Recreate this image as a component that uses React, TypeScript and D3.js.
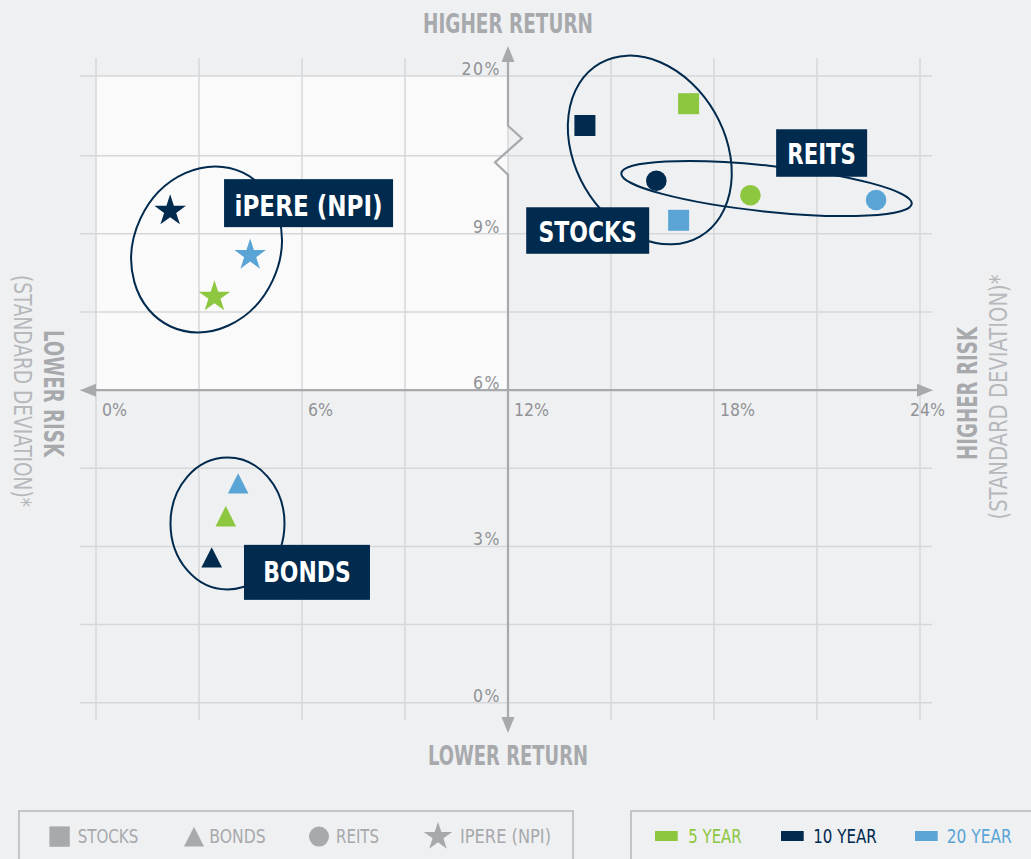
import React from "react";
import * as d3 from "d3";

const W = 1031;
const H = 859;

// ---------- data ----------
const horizons = ["5 YEAR", "10 YEAR", "20 YEAR"];
const horizonColors = ["#8dc63f", "#002a4e", "#5aa5d6"];
const assetClasses = ["STOCKS", "BONDS", "REITS", "IPERE (NPI)"];
const assetShapes = ["square", "triangle", "circle", "star"];

// risk (std dev, %) and return (%) per horizon [5Y, 10Y, 20Y]
const stocksRisk = [17.26, 14.24, 16.97];
const stocksReturn = [16.7, 14.1, 9.26];
const bondsRisk = [3.78, 3.37, 4.14];
const bondsReturn = [3.58, 2.79, 4.21];
const reitsRisk = [19.06, 16.32, 22.72];
const reitsReturn = [9.74, 10.02, 9.65];
const ipereRisk = [3.45, 2.16, 4.49];
const ipereReturn = [7.79, 9.44, 8.59];

const xTickValues = [0, 6, 12, 18, 24];
const xGridValues = [0, 3, 6, 9, 12, 15, 18, 21, 24];
const yTickValues = [0, 3, 6, 9, 20];
const yGridValues = [0, 1.5, 3, 4.5, 6, 7.5, 9, 10.5, 20];

const groupLabels = ["STOCKS", "BONDS", "REITS", "iPERE (NPI)"];
// group ellipse centres (data units)
const groupCenterRisk = [16.13, 3.83, 19.53, 3.22];
const groupCenterReturn = [11.18, 3.44, 9.87, 8.7];
// label box anchors (top-left, data units)
const labelRisk = [12.53, 4.31, 19.81, 3.73];
const labelReturn = [9.51, 3.03, 13.65, 10.05];

// ---------- styles ----------
const FONT = "'Liberation Sans Narrow','DejaVu Sans Condensed','Arial Narrow',sans-serif";
const BG = "#eff0f2";
const GRID = "#d6d7d9";
const AXIS = "#a7a9ac";
const TICK = "#909295";
const NAVY = "#002a4e";

const ellipseStyle = [
  { rx: 75, ry: 100, rot: -30 },
  { rx: 57, ry: 66, rot: 0 },
  { rx: 146, ry: 23, rot: 6 },
  { rx: 73, ry: 85, rot: 25 },
];
const labelBoxStyle = [
  { w: 123, h: 46.5, tw: 98.4, dy: 34.5 },
  { w: 126, h: 55, tw: 87.6, dy: 36.7 },
  { w: 91, h: 47.5, tw: 68.6, dy: 34.7 },
  { w: 169, h: 48, tw: 148, dy: 36.5 },
];

function starPath(r: number) {
  const ri = r * 0.382;
  const pts: [number, number][] = [];
  for (let i = 0; i < 10; i++) {
    const a = (-90 + i * 36) * (Math.PI / 180);
    const rr = i % 2 === 0 ? r : ri;
    pts.push([rr * Math.cos(a), rr * Math.sin(a)]);
  }
  return d3.line()(pts.concat([pts[0]])) + "Z";
}
function triPath(w: number, h: number) {
  return d3.line()([
    [0, -h / 2],
    [w / 2, h / 2],
    [-w / 2, h / 2],
    [0, -h / 2],
  ]) + "Z";
}

function Shape({ kind, x, y, color, scale = 1 }: { kind: string; x: number; y: number; color: string; scale?: number }) {
  if (kind === "square") {
    const s = 21 * scale;
    return <rect x={x - s / 2} y={y - s / 2} width={s} height={s} fill={color} />;
  }
  if (kind === "circle") {
    return <circle cx={x} cy={y} r={10.3 * scale} fill={color} />;
  }
  if (kind === "triangle") {
    return <path d={triPath(20.6 * scale, 20.4 * scale)} transform={`translate(${x},${y})`} fill={color} />;
  }
  return <path d={starPath(16.6 * scale)} transform={`translate(${x},${y})`} fill={color} />;
}

export default function App() {
  const xs = d3.scaleLinear().domain([0, 24]).range([96, 920]);
  const ys = d3.scaleLinear().domain([0, 10.5, 20]).range([702.7, 155.7, 76]);

  const seriesRisk = [stocksRisk, bondsRisk, reitsRisk, ipereRisk];
  const seriesReturn = [stocksReturn, bondsReturn, reitsReturn, ipereReturn];

  const ax = xs(12);
  const ay = ys(6);
  const gridLeft = 80;
  const gridRight = 932;
  const gridTop = 58;
  const gridBottom = 720;

  const bTop = ys(10.5) - 30;
  const yAxisPath =
    `M${ax},60 L${ax},${bTop} L${ax + 14},${bTop + 12.7} L${ax - 13},${bTop + 36.7} L${ax},${bTop + 49} L${ax},719`;

  return (
    <svg
      width={W}
      height={H}
      style={{ position: "absolute", left: 0, top: 0, display: "block" }}
      fontFamily={FONT}
    >
      <rect width={W} height={H} fill={BG} />
      <rect x={xs(0)} y={ys(20)} width={xs(12) - xs(0)} height={ys(6) - ys(20)} fill="#fafafa" />

      {/* grid */}
      {yGridValues.map((v) => (
        <line key={"hy" + v} x1={gridLeft} x2={gridRight} y1={ys(v)} y2={ys(v)} stroke={GRID} strokeWidth={1.5} />
      ))}
      {xGridValues.map((v) => (
        <line key={"vx" + v} x1={xs(v)} x2={xs(v)} y1={gridTop} y2={gridBottom} stroke={GRID} strokeWidth={1.5} />
      ))}

      {/* axes */}
      <line x1={gridLeft + 14} x2={gridRight - 12} y1={ay} y2={ay} stroke={AXIS} strokeWidth={2.2} />
      <path d={`M${gridLeft},${ay} L${gridLeft + 16},${ay - 6.5} L${gridLeft + 16},${ay + 6.5}Z`} fill={AXIS} />
      <path d={`M${gridRight + 1},${ay} L${gridRight - 15},${ay - 6.5} L${gridRight - 15},${ay + 6.5}Z`} fill={AXIS} />
      <path d={yAxisPath} fill="none" stroke={AXIS} strokeWidth={2.2} strokeLinejoin="miter" />
      <path d={`M${ax},46 L${ax - 6.5},62 L${ax + 6.5},62Z`} fill={AXIS} />
      <path d={`M${ax},733 L${ax - 6.5},717 L${ax + 6.5},717Z`} fill={AXIS} />

      {/* tick labels */}
      {xTickValues.map((v) => (
        <text
          key={"xt" + v}
          x={xs(v) + (v === 24 ? -10 : 6)}
          y={416}
          fontSize={17.5}
          fill={TICK}
        >
          {v}%
        </text>
      ))}
      {yTickValues.map((v) => (
        <text
          key={"yt" + v}
          x={ax - 7}
          y={ys(v) - 1}
          fontSize={17.5}
          fill={TICK}
          textAnchor="end"
          letterSpacing={1.5}
        >
          {v}%
        </text>
      ))}

      {/* axis titles */}
      <text x={508} y={32.7} textAnchor="middle" fontWeight="bold" fontSize={26} fill={AXIS} textLength={170} lengthAdjust="spacingAndGlyphs">
        HIGHER RETURN
      </text>
      <text x={508} y={764.5} textAnchor="middle" fontWeight="bold" fontSize={26} fill={AXIS} textLength={160} lengthAdjust="spacingAndGlyphs">
        LOWER RETURN
      </text>
      <text transform="translate(44,393.5) rotate(90)" textAnchor="middle" fontWeight="bold" fontSize={26} fill={AXIS} textLength={127} lengthAdjust="spacingAndGlyphs">
        LOWER RISK
      </text>
      <text transform="translate(14,391) rotate(90)" textAnchor="middle" fontSize={25} fill="#b6b8bb" textLength={232} lengthAdjust="spacingAndGlyphs">
        (STANDARD DEVIATION)*
      </text>
      <text transform="translate(977,393.5) rotate(-90)" textAnchor="middle" fontWeight="bold" fontSize={26} fill={AXIS} textLength={133} lengthAdjust="spacingAndGlyphs">
        HIGHER RISK
      </text>
      <text transform="translate(1007,397) rotate(-90)" textAnchor="middle" fontSize={25} fill="#b6b8bb" textLength={245} lengthAdjust="spacingAndGlyphs">
        (STANDARD DEVIATION)*
      </text>

      {/* group ellipses */}
      {groupLabels.map((g, i) => {
        const e = ellipseStyle[i];
        const cx = xs(groupCenterRisk[i]);
        const cy = ys(groupCenterReturn[i]);
        return (
          <ellipse
            key={"el" + g}
            cx={0}
            cy={0}
            rx={e.rx}
            ry={e.ry}
            transform={`translate(${cx},${cy}) rotate(${e.rot})`}
            fill="none"
            stroke={NAVY}
            strokeWidth={2}
          />
        );
      })}

      {/* points */}
      {assetShapes.map((shape, si) =>
        horizons.map((h, hi) => (
          <Shape
            key={shape + h}
            kind={shape}
            x={xs(seriesRisk[si][hi])}
            y={ys(seriesReturn[si][hi])}
            color={horizonColors[hi]}
          />
        ))
      )}

      {/* group labels */}
      {groupLabels.map((g, i) => {
        const b = labelBoxStyle[i];
        const bx = xs(labelRisk[i]);
        const by = ys(labelReturn[i]);
        return (
          <g key={"lb" + g}>
            <rect x={bx} y={by} width={b.w} height={b.h} fill={NAVY} />
            <text
              x={bx + b.w / 2}
              y={by + b.dy}
              textAnchor="middle"
              fill="#ffffff"
              fontWeight="bold"
              fontSize={28}
              textLength={b.tw}
              lengthAdjust="spacingAndGlyphs"
            >
              {g}
            </text>
          </g>
        );
      })}

      {/* legend: asset classes */}
      <rect x={19} y={811} width={554} height={70} fill="none" stroke="#b5b7b9" strokeWidth={1.5} />
      {assetClasses.map((a, i) => {
        const shapeX = [59.6, 194, 319, 438][i];
        const textX = [77.7, 209.3, 336, 460][i];
        const tw = [60.6, 56.4, 43, 91][i];
        return (
          <g key={"lg" + a}>
            <Shape kind={assetShapes[i]} x={shapeX} y={836.6} color={AXIS} scale={assetShapes[i] === "star" ? 0.9 : 0.97} />
            <text x={textX} y={843.3} fontSize={19} fill={AXIS} textLength={tw} lengthAdjust="spacingAndGlyphs">
              {a}
            </text>
          </g>
        );
      })}

      {/* legend: horizons */}
      <rect x={631} y={811} width={440} height={70} fill="none" stroke="#b5b7b9" strokeWidth={1.5} />
      {horizons.map((h, i) => {
        const rx = [655, 781, 915][i];
        const tx = [688.3, 813.3, 946.7][i];
        const tw = [53.4, 63.4, 65][i];
        return (
          <g key={"hz" + h}>
            <rect x={rx} y={831} width={22.7} height={10} fill={horizonColors[i]} />
            <text x={tx} y={843.3} fontSize={19} fill={horizonColors[i]} textLength={tw} lengthAdjust="spacingAndGlyphs">
              {h}
            </text>
          </g>
        );
      })}
    </svg>
  );
}
